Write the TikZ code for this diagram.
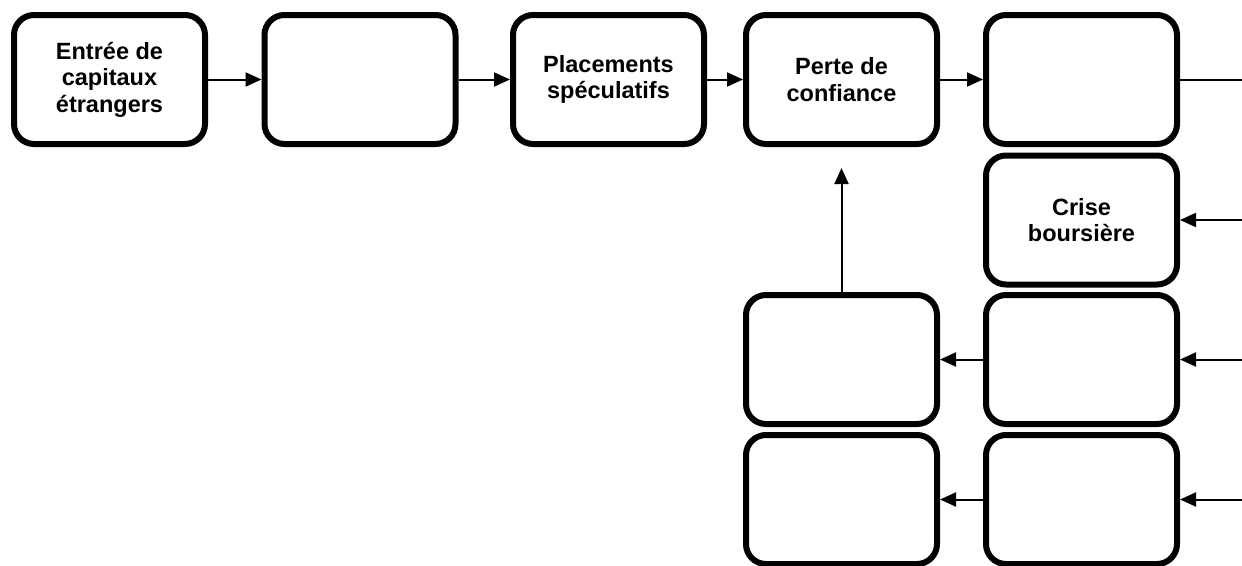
\documentclass[tikz,border=0pt]{standalone}
\usepackage{fontspec}
\setmainfont{Liberation Sans}
\usetikzlibrary{arrows.meta}

\begin{document}
\begin{tikzpicture}[x=1pt,y=-1pt]
	\tikzset{etape/.style={draw, line width=6pt, rounded corners=20pt, minimum width=191pt, minimum height=129pt, inner sep=0pt, align=center, font=\fontsize{23.5}{26.5}\selectfont\bfseries}}
	\tikzset{fleche/.style={line width=2pt, -{Triangle[length=16pt,width=14pt]}}}
	\tikzset{trait/.style={line width=2pt}}

	\useasboundingbox (0,0) rectangle (1242,565);

	% premiere ligne
	\node[etape] (entree) at (109.5,79.5) {Entrée de\\capitaux\\étrangers};
	\node[etape] (vide1) at (360,79.5) {};
	\node[etape] (placements) at (608.5,79.5) {Placements\\spéculatifs};
	\node[etape] (confiance) at (841.5,79.5) {Perte de\\confiance};
	\node[etape] (vide2) at (1081.5,79.5) {};

	% colonne de droite
	\node[etape] (crise) at (1081.5,220) {Crise\\boursière};
	\node[etape] (droite1) at (1081.5,359.5) {};
	\node[etape] (droite2) at (1081.5,499.5) {};

	% colonne de gauche
	\node[etape] (gauche1) at (841.5,359.5) {};
	\node[etape] (gauche2) at (841.5,499.5) {};

	\coordinate (bordA) at (1242,79.5);
	\coordinate (bordB) at (1242,220);
	\coordinate (bordC) at (1242,359.5);
	\coordinate (bordD) at (1242,499.5);
	\coordinate (haut) at (841.5,168);

	\draw[fleche] (entree.east) -- (vide1.west);
	\draw[fleche] (vide1.east) -- (placements.west);
	\draw[fleche] (placements.east) -- (confiance.west);
	\draw[fleche] (confiance.east) -- (vide2.west);
	\draw[trait] (vide2.east) -- (bordA);

	\draw[fleche] (bordB) -- (crise.east);
	\draw[fleche] (bordC) -- (droite1.east);
	\draw[fleche] (bordD) -- (droite2.east);

	\draw[fleche] (droite1.west) -- (gauche1.east);
	\draw[fleche] (droite2.west) -- (gauche2.east);
	\draw[fleche] (gauche1.north) -- (haut);
\end{tikzpicture}
\end{document}
